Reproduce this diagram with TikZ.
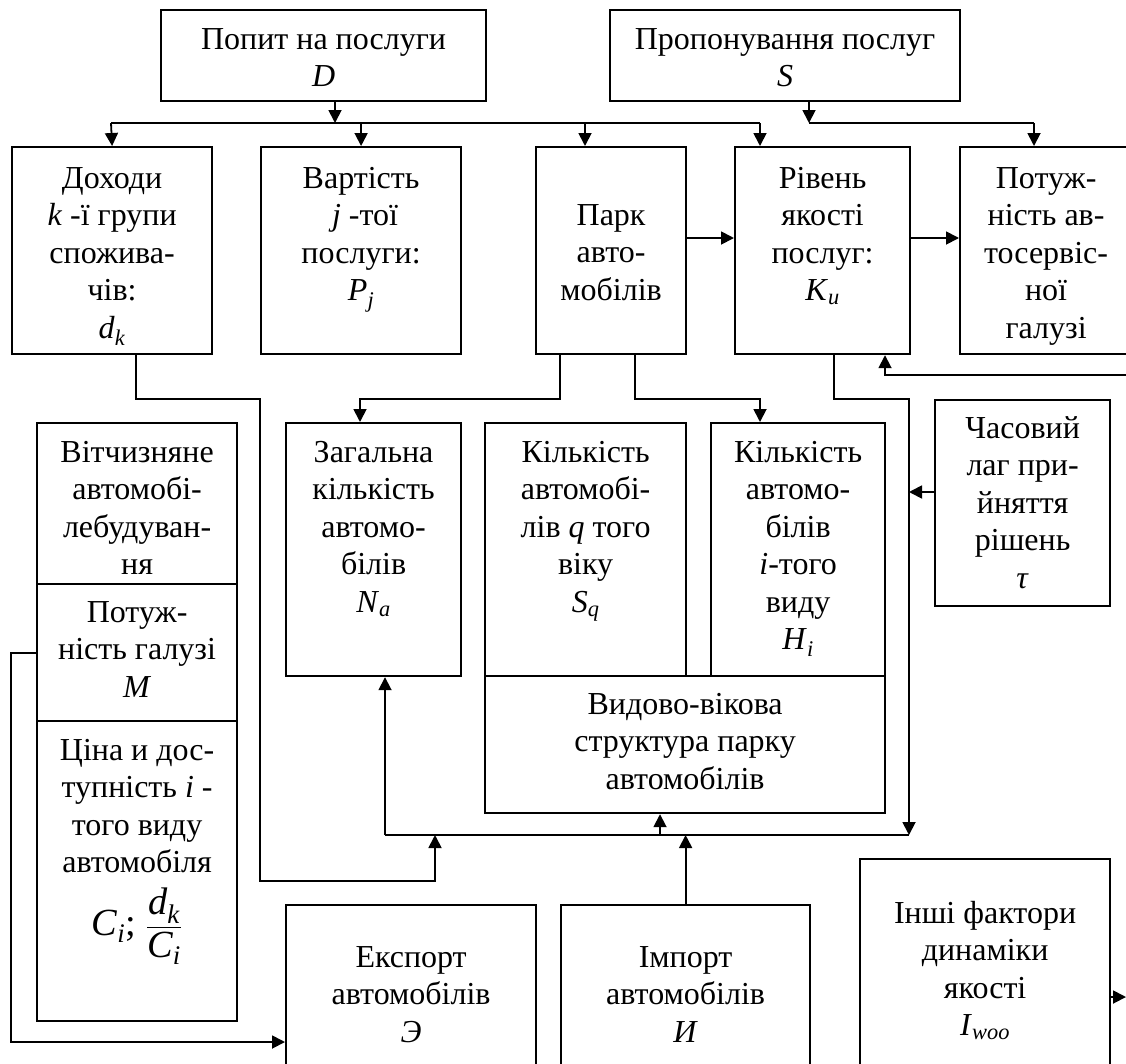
\documentclass[tikz,border=0pt]{standalone}
\usepackage{amsmath}
\usepackage{fontspec}
\setmainfont{Liberation Serif}
\usetikzlibrary{arrows.meta}
% top-aligned text in a box of fixed size: width, height, top gap, text
\newcommand{\cellbox}[4]{\parbox[c][#2][t]{#1}{\centering\vspace*{#3}\strut#4\par}}
\newcommand{\varsub}[2]{\textit{#1}\textsubscript{\textit{#2}}}
\begin{document}
\begin{tikzpicture}[x=1pt, y=-1pt, font=\fontsize{32}{37.5}\selectfont,
  box/.style={draw, line width=2.2pt, inner sep=0pt, anchor=north west},
  lin/.style={line width=1.8pt},
  arr/.style={lin, -{Triangle[length=13pt,width=13pt]}}]
  \useasboundingbox (0,0) rectangle (1126,1063);
  \clip (0,0) rectangle (1126,1063);
  % demand and supply
  \node[box] (popyt) at (160,9) {\cellbox{325pt}{91pt}{13pt}{Попит на послуги\\ \textit{D}}};
  \node[box] (propon) at (609,9) {\cellbox{350pt}{91pt}{13pt}{Пропонування послуг\\ \textit{S}}};
  % second row
  \node[box] (dohody) at (11,146) {\cellbox{200pt}{207pt}{15pt}{Доходи\\ \textit{k} -ї групи\\ спожива-\\ чів:\\ \varsub{d}{k}}};
  \node[box] (vart) at (260,146) {\cellbox{200pt}{207pt}{15pt}{Вартість\\ \ \textit{j} -тої\\ послуги:\\ \varsub{P}{j}}};
  \node[box] (park) at (535,146) {\cellbox{150pt}{207pt}{52pt}{Парк\\ авто-\\ мобілів}};
  \node[box] (riven) at (734,146) {\cellbox{175pt}{207pt}{15pt}{Рівень\\ якості\\ послуг:\\ \varsub{K}{u}}};
  \node[box] (potuzh) at (959,146) {\cellbox{172pt}{207pt}{15pt}{Потуж-\\ ність ав-\\ тосервіс-\\ ної\\ галузі}};
  % left column
  \node[box] (vitch) at (36,422) {\cellbox{200pt}{161pt}{13pt}{Вітчизняне\\ автомобі-\\ лебудуван-\\ ня}};
  \node[box] (potgal) at (36,583) {\cellbox{200pt}{137pt}{12pt}{Потуж-\\ ність галузі\\ \textit{M}}};
  \node[box] (cina) at (36,720) {\cellbox{200pt}{300pt}{13pt}{Ціна и дос-\\ тупність \textit{i} -\\ того виду\\ автомобіля\\[14pt] \scalebox{1.2}{$\textit{C}_{\textit{i}}\text{; }\dfrac{\textit{d}_{\textit{k}}}{\textit{C}_{\textit{i}}}$}}};
  % fleet structure
  \node[box] (zag) at (285,422) {\cellbox{175pt}{253pt}{13pt}{Загальна\\ кількість\\ автомо-\\ білів\\ \varsub{N}{a}}};
  \node[box] (kilq) at (484,422) {\cellbox{201pt}{253pt}{13pt}{Кількість\\ автомобі-\\ лів \textit{q} того\\ віку\\ \varsub{S}{q}}};
  \node[box] (kili) at (710,422) {\cellbox{174pt}{253pt}{13pt}{Кількість\\ автомо-\\ білів\\ \textit{i}-того\\ виду\\ \varsub{H}{i}}};
  \node[box] (vyd) at (484,675) {\cellbox{400pt}{137pt}{12pt}{Видово-вікова\\ структура парку\\ автомобілів}};
  \node[box] (chas) at (934,399) {\cellbox{175pt}{206pt}{12pt}{Часовий\\ лаг при-\\ йняття\\ рішень\\ \textit{τ}}};
  % bottom row
  \node[box] (eksp) at (285,904) {\cellbox{250pt}{190pt}{36pt}{Експорт\\ автомобілів\\ \textit{Э}}};
  \node[box] (imp) at (560,904) {\cellbox{249pt}{190pt}{36pt}{Імпорт\\ автомобілів\\ \textit{И}}};
  \node[box] (insh) at (859,858) {\cellbox{250pt}{240pt}{38pt}{Інші фактори\\ динаміки\\ якості\\ \varsub{I}{woo}}};

  % junction points
  \coordinate (dj) at (335,123);
  \coordinate (dL) at (111,123);
  \coordinate (dpark) at (585,123);
  \coordinate (dR) at (760,123);
  \coordinate (sj) at (809,123);
  \coordinate (sR) at (1034,123);
  \coordinate (hy) at (0,238);
  \coordinate (fbin) at (1126,375);
  \coordinate (fbx) at (885,375);
  \coordinate (p1) at (560,399);
  \coordinate (zt) at (360,399);
  \coordinate (p2) at (635,399);
  \coordinate (kt) at (760,399);
  \coordinate (r1) at (834,399);
  \coordinate (rv) at (909,399);
  \coordinate (lbL) at (385,835);
  \coordinate (lbV) at (660,835);
  \coordinate (lbR) at (909,835);
  \coordinate (cy) at (0,492);
  \coordinate (d1) at (136,399);
  \coordinate (d2) at (260,399);
  \coordinate (d3) at (260,881);
  \coordinate (d4) at (435,881);
  \coordinate (e1) at (11,651);
  \coordinate (e2) at (11,1042);
  \coordinate (iout) at (1126,997);

  % demand bus
  \draw[arr] (popyt.south -| dj) -- (dj);
  \draw[lin] (dL) -- (dR);
  \draw[arr] (dL) -- (dohody.north);
  \draw[arr] (dL -| vart.north) -- (vart.north);
  \draw[arr] (dpark) -- (dpark |- park.north);
  \draw[arr] (dR) -- (dR |- riven.north);
  % supply bus
  \draw[arr] (propon.south -| sj) -- (sj);
  \draw[lin] (sj) -- (sR);
  \draw[arr] (sR) -- (sR |- potuzh.north);
  % second row links
  \draw[arr] (park.east |- hy) -- (riven.west |- hy);
  \draw[arr] (riven.east |- hy) -- (potuzh.west |- hy);
  \draw[arr] (fbin) -- (fbx) -- (fbx |- riven.south);
  % fleet
  \draw[arr] (p1 |- park.south) -- (p1) -- (zt) -- (zt |- zag.north);
  \draw[arr] (p2 |- park.south) -- (p2) -- (kt) -- (kt |- kili.north);
  \draw[arr] (r1 |- riven.south) -- (r1) -- (rv) -- (lbR);
  \draw[arr] (chas.west |- cy) -- (rv |- cy);
  % lower loop
  \draw[lin] (lbL) -- (lbR);
  \draw[arr] (lbL) -- (lbL |- zag.south);
  \draw[arr] (lbV) -- (lbV |- vyd.south);
  \draw[arr] (d1 |- dohody.south) -- (d1) -- (d2) -- (d3) -- (d4) -- (d4 |- lbL);
  \draw[arr] (imp.north) -- (imp.north |- lbL);
  \draw[arr] (potgal.west) -- (potgal.west -| e1) -- (e2) -- (e2 -| eksp.west);
  \draw[arr] (insh.east |- iout) -- (iout);
\end{tikzpicture}
\end{document}
